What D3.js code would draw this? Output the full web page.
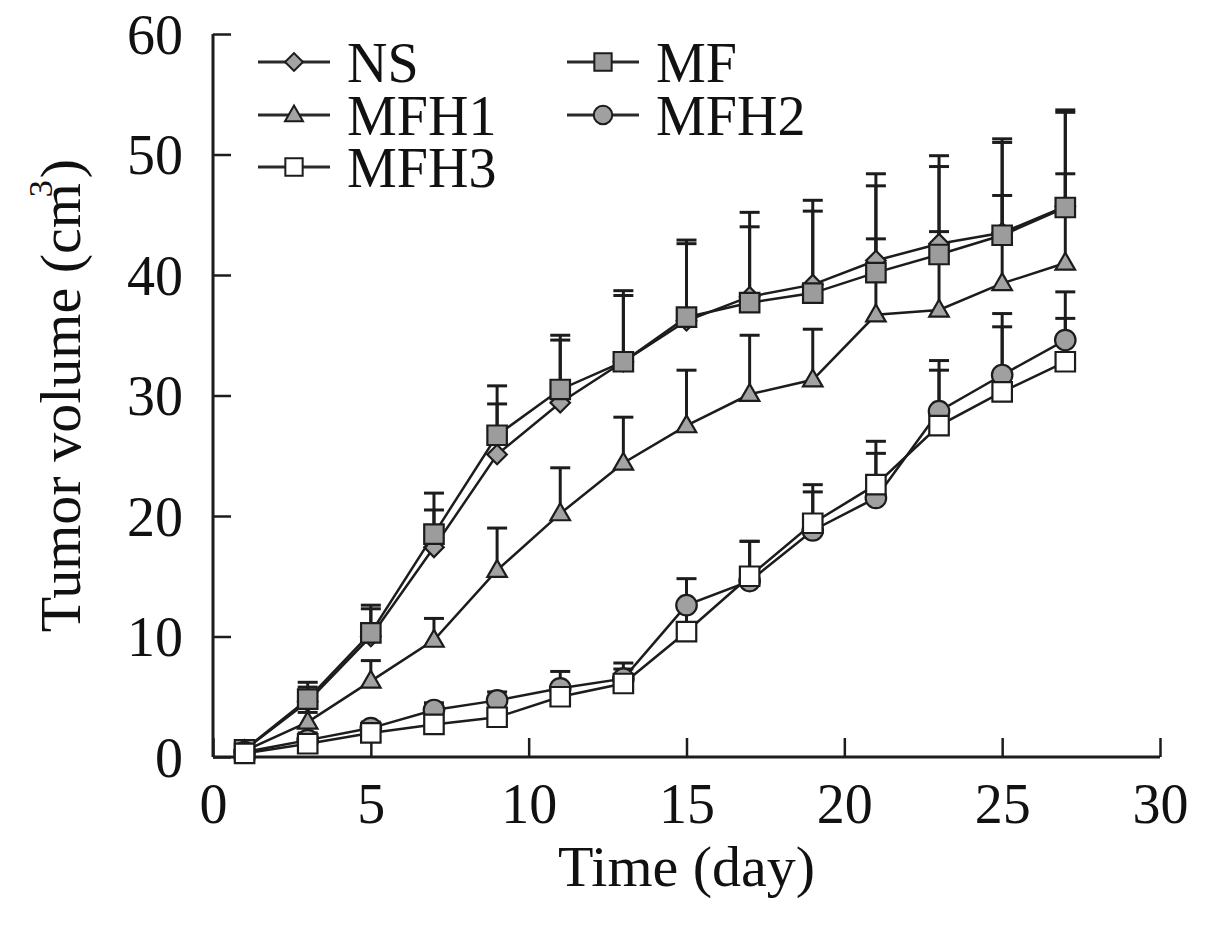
<!doctype html>
<html lang="en">

<head>
    <meta charset="utf-8">
    <title>d3 - tumor volume over time</title>
    <script src="https://cdn.jsdelivr.net/npm/d3@7"></script>
    <style>
        body {
            margin: 0;
            background: #ffffff;
        }

        svg {
            display: block;
        }

        text {
            font-family: "Liberation Serif", "DejaVu Serif", serif;
            fill: #111111;
        }
    </style>
</head>

<body>
    <svg></svg>
    <script>
        var width = 1205;
        var height = 925;

        // days of measurement
        var days = [1, 3, 5, 7, 9, 11, 13, 15, 17, 19, 21, 23, 25, 27];

        // mean tumor volume (cm3) per group
        var nsMean = [0.6, 4.6, 10.0, 17.4, 25.1, 29.4, 32.8, 36.2, 38.2, 39.2, 41.2, 42.6, 43.5, 45.7];
        var mfMean = [0.6, 4.8, 10.3, 18.5, 26.7, 30.5, 32.8, 36.5, 37.7, 38.5, 40.2, 41.7, 43.3, 45.6];
        var mfh1Mean = [0.5, 2.9, 6.3, 9.7, 15.5, 20.2, 24.4, 27.5, 30.1, 31.3, 36.7, 37.1, 39.3, 41.0];
        var mfh2Mean = [0.4, 1.4, 2.4, 3.9, 4.7, 5.7, 6.5, 12.6, 14.6, 18.8, 21.5, 28.7, 31.7, 34.6];
        var mfh3Mean = [0.3, 1.1, 2.0, 2.7, 3.3, 5.0, 6.1, 10.4, 15.0, 19.4, 22.6, 27.5, 30.3, 32.8];

        // upper error bar length per group
        var nsErr = [0.4, 1.2, 2.3, 3.1, 4.2, 5.2, 5.5, 6.4, 5.8, 6.1, 6.2, 6.4, 7.5, 7.8];
        var mfErr = [0.4, 1.4, 2.3, 3.4, 4.1, 4.5, 5.9, 6.4, 7.5, 7.7, 8.2, 8.2, 8.0, 8.1];
        var mfh1Err = [0.4, 0.8, 1.7, 1.8, 3.5, 3.8, 3.8, 4.6, 4.9, 4.2, 6.3, 6.5, 7.3, 7.4];
        var mfh2Err = [0.2, 0.6, 0.5, 0.6, 0.7, 1.4, 1.3, 2.2, 3.3, 3.8, 4.7, 4.2, 5.1, 4.0];
        var mfh3Err = [0.2, 0.5, 0.5, 0.6, 0.6, 1.0, 1.2, 2.0, 2.9, 2.6, 2.6, 4.6, 5.4, 3.6];

        var xTicks = [0, 5, 10, 15, 20, 25, 30];
        var yTicks = [0, 10, 20, 30, 40, 50, 60];

        var groups = [
            { name: 'NS', mean: nsMean, err: nsErr, shape: 'diamond', fill: '#a3a3a3' },
            { name: 'MF', mean: mfMean, err: mfErr, shape: 'square', fill: '#9c9c9c' },
            { name: 'MFH1', mean: mfh1Mean, err: mfh1Err, shape: 'triangle', fill: '#a3a3a3' },
            { name: 'MFH2', mean: mfh2Mean, err: mfh2Err, shape: 'circle', fill: '#a0a0a0' },
            { name: 'MFH3', mean: mfh3Mean, err: mfh3Err, shape: 'square', fill: '#ffffff' }
        ];

        var xScale = d3.scaleLinear().domain([0, 30]).range([213, 1160]);
        var yScale = d3.scaleLinear().domain([0, 60]).range([757, 34]);

        var ink = '#1c1c1c';

        var symbols = {
            square: d3.symbol().type(d3.symbolSquare).size(380),
            diamond: d3.symbol().type(d3.symbolSquare).size(190),
            triangle: d3.symbol().type(d3.symbolTriangle).size(165),
            circle: d3.symbol().type(d3.symbolCircle).size(330)
        };
        // legend markers are a bit smaller
        var legendSymbols = {
            square: d3.symbol().type(d3.symbolSquare).size(300),
            diamond: d3.symbol().type(d3.symbolSquare).size(160),
            triangle: d3.symbol().type(d3.symbolTriangle).size(140),
            circle: d3.symbol().type(d3.symbolCircle).size(270)
        };

        function markerTransform(shape, x, y) {
            var t = 'translate(' + x + ',' + y + ')';
            if (shape === 'diamond') t += ' rotate(45)';
            if (shape === 'triangle') t += ' translate(0,1)';
            return t;
        }

        var svg = d3.select('svg').attr('width', width).attr('height', height);

        // axes
        var xAxis = d3.axisBottom(xScale).tickValues(xTicks).tickSize(-19).tickPadding(26);
        var yAxis = d3.axisLeft(yScale).tickValues(yTicks).tickSize(-18).tickPadding(30);

        var gx = svg.append('g')
            .attr('transform', 'translate(0,' + yScale(0) + ')')
            .call(xAxis);
        var gy = svg.append('g')
            .attr('transform', 'translate(' + xScale(0) + ',0)')
            .call(yAxis);

        [gx, gy].forEach(function (g) {
            g.select('.domain').attr('stroke', ink).attr('stroke-width', 3);
            g.selectAll('.tick line').attr('stroke', ink).attr('stroke-width', 2.5);
            g.selectAll('.tick text')
                .attr('font-family', '"Liberation Serif", serif')
                .attr('font-size', 56)
                .attr('fill', '#111');
        });
        gx.select('.domain').attr('d', 'M' + xScale(0) + ',0H' + xScale(30));
        gy.select('.domain').attr('d', 'M0,' + yScale(0) + 'V' + yScale(60));
        gy.selectAll('.tick text').attr('dy', '0.34em');

        // axis titles
        svg.append('text')
            .attr('x', (xScale(0) + xScale(30)) / 2)
            .attr('y', 886)
            .attr('text-anchor', 'middle')
            .attr('font-size', 58)
            .text('Time (day)');

        var yTitle = svg.append('text')
            .attr('transform', 'translate(80,' + (yScale(0) + yScale(60)) / 2 + ') rotate(-90)')
            .attr('text-anchor', 'middle')
            .attr('font-size', 58);
        yTitle.append('tspan').text('Tumor volume (cm');
        yTitle.append('tspan').attr('font-size', 34).attr('fill', '#111').attr('dy', -28).attr('dx', -14).text('3');
        yTitle.append('tspan').attr('dy', 28).attr('dx', 2).text(')');

        var line = d3.line()
            .x(function (d) { return xScale(d[0]); })
            .y(function (d) { return yScale(d[1]); });

        // error bars (upper only)
        groups.forEach(function (g) {
            var bars = svg.append('g').attr('stroke', ink).attr('stroke-width', 3);
            days.forEach(function (day, i) {
                var x = xScale(day);
                var top = yScale(g.mean[i] + g.err[i]);
                bars.append('line')
                    .attr('x1', x).attr('x2', x)
                    .attr('y1', yScale(g.mean[i])).attr('y2', top);
                bars.append('line')
                    .attr('x1', x - 10).attr('x2', x + 10)
                    .attr('y1', top).attr('y2', top);
            });
        });

        // lines and markers
        groups.forEach(function (g) {
            var pts = days.map(function (day, i) { return [day, g.mean[i]]; });
            svg.append('path')
                .datum(pts)
                .attr('d', line)
                .attr('fill', 'none')
                .attr('stroke', ink)
                .attr('stroke-width', 2.5);

            svg.append('g').selectAll('path')
                .data(pts)
                .enter()
                .append('path')
                .attr('d', symbols[g.shape])
                .attr('transform', function (d) {
                    return markerTransform(g.shape, xScale(d[0]), yScale(d[1]));
                })
                .attr('fill', g.fill)
                .attr('stroke', ink)
                .attr('stroke-width', 2.2);
        });

        // legend
        var legendPos = [
            [294, 62], [603, 62],
            [294, 115], [603, 115],
            [294, 167]
        ];
        groups.forEach(function (g, i) {
            var p = legendPos[i];
            var lg = svg.append('g').attr('transform', 'translate(' + p[0] + ',' + p[1] + ')');
            lg.append('line')
                .attr('x1', -36).attr('x2', 36)
                .attr('y1', 0).attr('y2', 0)
                .attr('stroke', '#2a2a2a').attr('stroke-width', 3);
            lg.append('path')
                .attr('d', legendSymbols[g.shape])
                .attr('transform', markerTransform(g.shape, 0, 0))
                .attr('fill', g.fill)
                .attr('stroke', ink)
                .attr('stroke-width', 2);
            lg.append('text')
                .attr('x', 53)
                .attr('y', 0)
                .attr('dy', '0.35em')
                .attr('font-size', 56)
                .text(g.name);
        });
    </script>

</body>

</html>
